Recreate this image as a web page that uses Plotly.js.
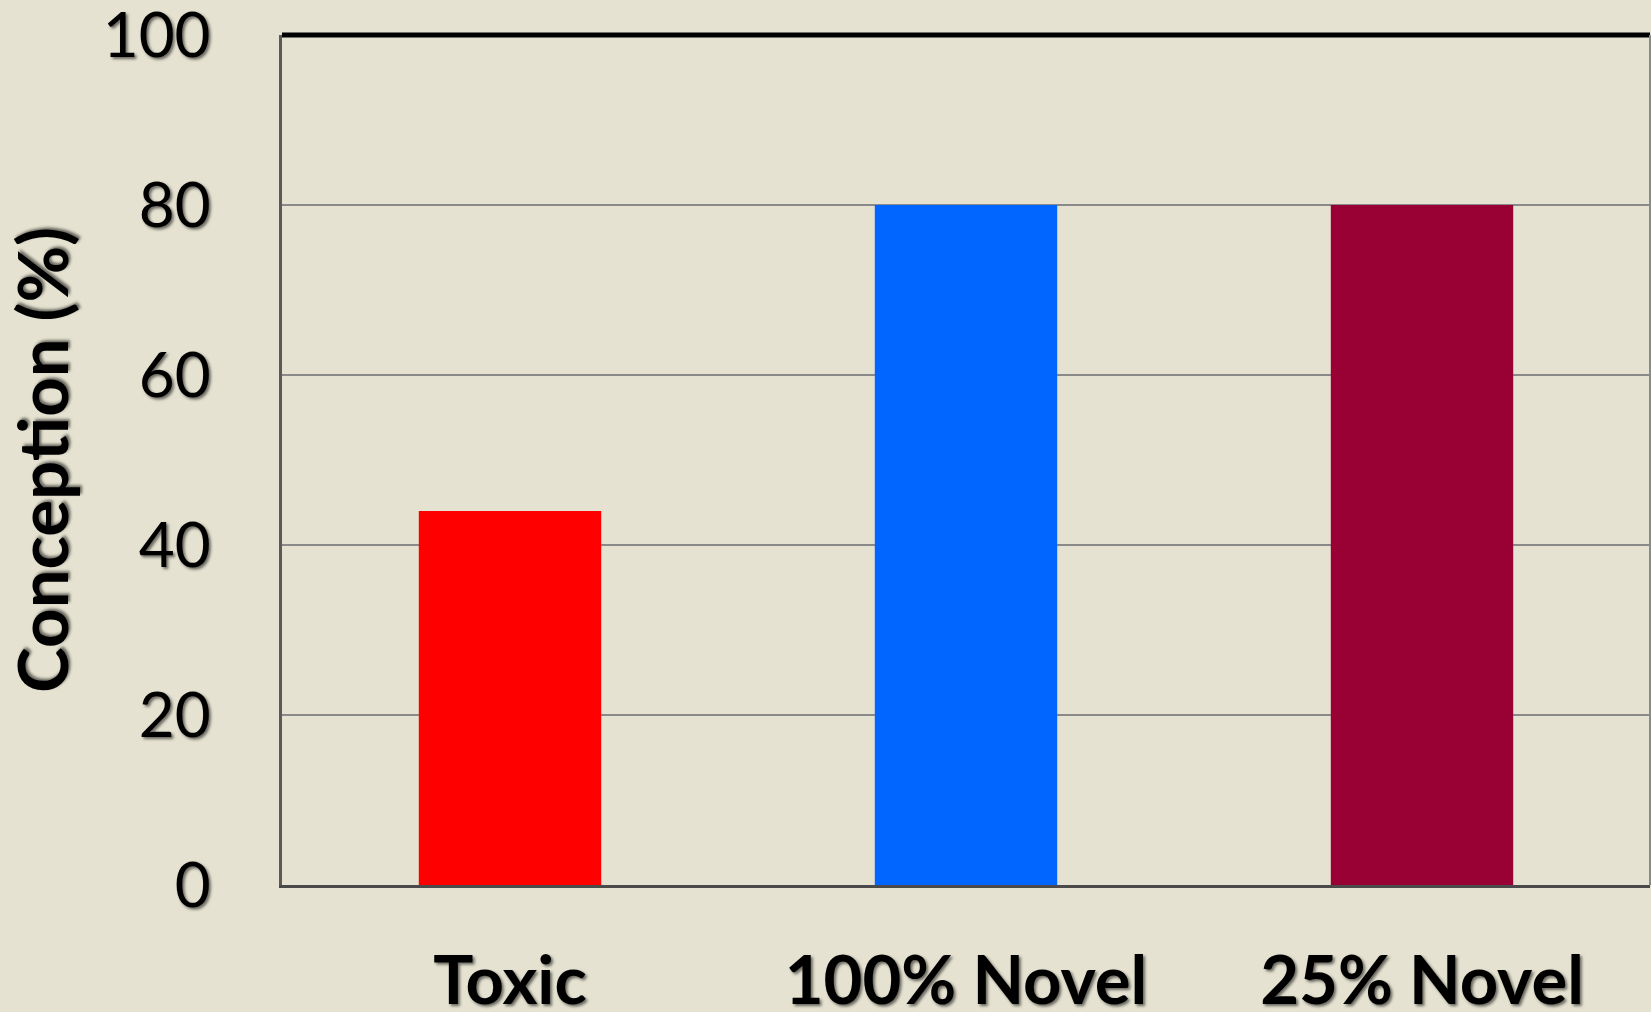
<!DOCTYPE html>
<html>
<head>
<meta charset="utf-8">
<script src="https://cdn.plot.ly/plotly-3.0.1.min.js"></script>
<style>
html,body{margin:0;padding:0;background:#E5E2D1;}
#chart{width:1651px;height:1012px;}
</style>
</head>
<body>
<div id="chart"></div>
<script>
const categories = ["Toxic", "100% Novel", "25% Novel"];
const conception = [44, 80, 80];
const barColors = ["#FF0000", "#0066FF", "#990033"];
const yTicks = [0, 20, 40, 60, 80, 100];

const shadow = "2px 2px 3px rgba(0,0,0,0.55)";

const trace = {
  type: "bar",
  x: categories,
  y: conception,
  width: 0.4,
  marker: {color: barColors, line: {width: 0}},
  hoverinfo: "x+y"
};

const layout = {
  width: 1651,
  height: 1012,
  paper_bgcolor: "#E5E2D1",
  plot_bgcolor: "#E5E2D1",
  margin: {l: 282, r: 1, t: 35, b: 127},
  showlegend: false,
  bargap: 0.6,
  font: {family: "Lato, 'DejaVu Sans', sans-serif", color: "#000"},
  xaxis: {
    type: "category",
    range: [-0.5, 2.5],
    showgrid: false,
    showline: true,
    linecolor: "#4a4a4a",
    linewidth: 3,
    ticks: "",
    ticklabelstandoff: 36,
    ticklabeloverflow: "allow",
    tickfont: {family: "Lato", size: 67, weight: "bold", color: "#000", shadow: shadow},
    fixedrange: true
  },
  yaxis: {
    range: [0, 100],
    tickmode: "array",
    tickvals: yTicks,
    ticktext: yTicks.map(String),
    showgrid: true,
    gridcolor: "#8a8a8a",
    gridwidth: 2,
    zeroline: false,
    showline: true,
    linecolor: "#5a5a5a",
    linewidth: 3,
    ticks: "",
    ticklabelstandoff: 56,
    ticklabeloverflow: "allow",
    tickfont: {family: "Lato", size: 62, color: "#000", shadow: shadow},
    title: {
      text: "Conception (%)",
      font: {family: "Lato", size: 69, weight: "bold", color: "#000", shadow: shadow},
      standoff: 40
    },
    automargin: false,
    fixedrange: true
  },
  shapes: [
    {type: "line", xref: "paper", yref: "paper", x0: 0, x1: 1, y0: 1, y1: 1,
     line: {color: "#000", width: 5}},
    {type: "line", xref: "paper", yref: "paper", x0: 1, x1: 1, y0: 0, y1: 1,
     line: {color: "#8a8a8a", width: 2}}
  ]
};

Plotly.newPlot("chart", [trace], layout, {displayModeBar: false, staticPlot: true});
</script>
</body>
</html>
